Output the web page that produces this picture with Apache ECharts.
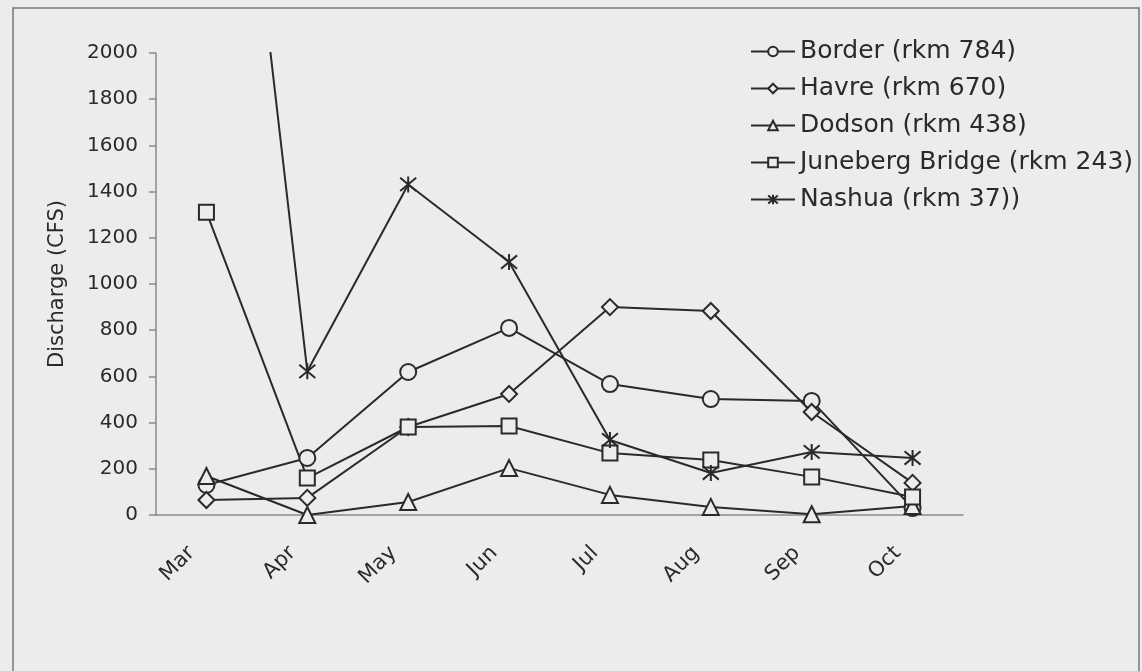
<!DOCTYPE html>
<html>
<head>
<meta charset="utf-8">
<script src="https://cdn.jsdelivr.net/npm/echarts@6/dist/echarts.min.js"></script>
<style>
  html,body{margin:0;padding:0;background:#ececec;}
  #chart{width:1142px;height:671px;}
</style>
</head>
<body>
<div id="chart"></div>
<script>
// months on the x axis
const months = ['Mar','Apr','May','Jun','Jul','Aug','Sep','Oct'];
// discharge values (CFS)
const border   = [130, 247, 619, 810, 567, 502, 494, 30];
const havre    = [65, 74, 381, 524, 900, 883, 446, 139];
const dodson   = [169, 0, 56, 203, 87, 35, 3, 39];
const juneberg = [1311, 160, 381, 385, 268, 238, 165, 78];
const nashua   = [4400, 622, 1431, 1095, 325, 182, 273, 247];
const names = ['Border (rkm 784)','Havre (rkm 670)','Dodson (rkm 438)','Juneberg Bridge (rkm 243)','Nashua (rkm 37))'];
const yTicks = {min:0, max:2000, step:200};

const FONT = 'DejaVu Sans';
const INK = '#2a2a2a';
const BG = '#ececec';
const star = 'path://M0,0L10,10M10,0L0,10M5,-1L5,11';

function ser(name, data, symbol, size){
  return {
    name, type:'line', data, symbol, symbolSize:size, clip:true,
    lineStyle:{color:INK, width:2},
    itemStyle:{color: symbol===star ? 'rgba(0,0,0,0)' : BG, borderColor:INK, borderWidth:2},
    emphasis:{disabled:true}, animation:false
  };
}

const c = echarts.init(document.getElementById('chart'));
c.setOption({
  backgroundColor: BG,
  textStyle:{fontFamily:FONT},
  graphic:[{type:'rect', shape:{x:13,y:8,width:1126,height:680}, style:{fill:'none', stroke:'#777', lineWidth:1.5}, silent:true}],
  grid:{left:156, right:179, top:53, bottom:156},
  legend:{
    orient:'vertical', left:745, top:34, itemWidth:44, itemHeight:12, itemGap:12,
    textStyle:{fontFamily:FONT, fontSize:25, color:INK},
    data:names
  },
  xAxis:{
    type:'category', data:months, boundaryGap:true,
    axisLine:{lineStyle:{color:'#8a8a8a', width:1.5}},
    axisTick:{length:7, lineStyle:{color:'#8a8a8a', width:1.5}},
    axisLabel:{rotate:45, margin:20, padding:[0,21,0,0], fontFamily:FONT, fontSize:21, color:INK}
  },
  yAxis:{
    type:'value', min:yTicks.min, max:yTicks.max, interval:yTicks.step,
    name:'Discharge (CFS)', nameLocation:'middle', nameRotate:90, nameGap:88,
    nameTextStyle:{fontFamily:FONT, fontSize:21, color:INK},
    axisLine:{show:true, lineStyle:{color:'#8a8a8a', width:1.5}},
    axisTick:{show:true, length:7, lineStyle:{color:'#8a8a8a', width:1.5}},
    splitLine:{show:false},
    axisLabel:{margin:18, fontFamily:FONT, fontSize:20, color:INK, formatter:v=>String(v)}
  },
  series:[
    ser(names[0], border, 'circle', 16),
    ser(names[1], havre, 'diamond', 16),
    ser(names[2], dodson, 'triangle', 16),
    ser(names[3], juneberg, 'rect', 15),
    ser(names[4], nashua, star, 16)
  ]
});
</script>
</body>
</html>
